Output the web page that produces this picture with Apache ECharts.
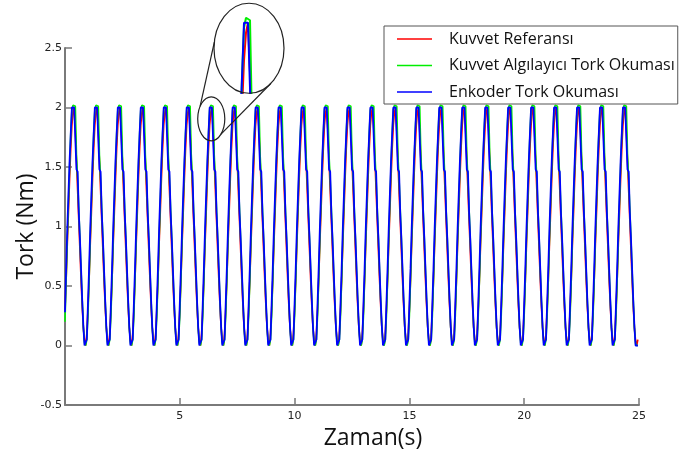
<!DOCTYPE html>
<html>
<head>
<meta charset="utf-8">
<script src="https://cdn.jsdelivr.net/npm/echarts@6/dist/echarts.min.js"></script>
<style>html,body{margin:0;padding:0;background:#fff}#c{width:691px;height:459px}</style>
</head>
<body>
<div id="c"></div>
<script>
// sampling step of the recorded signals (s)
const sampleStep = 0.05;
const seriesNames = ['Kuvvet Referansı', 'Kuvvet Algılayıcı Tork Okuması', 'Enkoder Tork Okuması'];
const xTicks = [0, 5, 10, 15, 20, 25];
const yTicks = [-0.5, 0, 0.5, 1, 1.5, 2, 2.5];

// Kuvvet Referansı (red), one line per second
const reference = [
.3,.55,.85,1.12,1.4,1.65,1.85,1.96,2,1.8,1.55,1.3,1.05,.8,.55,.33,.15,.04,0,.1,
.3,.55,.85,1.12,1.4,1.65,1.85,1.96,2,1.8,1.55,1.3,1.05,.8,.55,.33,.15,.04,0,.1,
.3,.55,.85,1.12,1.4,1.65,1.85,1.96,2,1.8,1.55,1.3,1.05,.8,.55,.33,.15,.04,0,.1,
.3,.55,.85,1.12,1.4,1.65,1.85,1.96,2,1.8,1.55,1.3,1.05,.8,.55,.33,.15,.04,0,.1,
.3,.55,.85,1.12,1.4,1.65,1.85,1.96,2,1.8,1.55,1.3,1.05,.8,.55,.33,.15,.04,0,.1,
.3,.55,.85,1.12,1.4,1.65,1.85,1.96,2,1.8,1.55,1.3,1.05,.8,.55,.33,.15,.04,0,.1,
.3,.55,.85,1.12,1.4,1.65,1.85,1.96,2,1.8,1.55,1.3,1.05,.8,.55,.33,.15,.04,0,.1,
.3,.55,.85,1.12,1.4,1.65,1.85,1.96,2,1.8,1.55,1.3,1.05,.8,.55,.33,.15,.04,0,.1,
.3,.55,.85,1.12,1.4,1.65,1.85,1.96,2,1.8,1.55,1.3,1.05,.8,.55,.33,.15,.04,0,.1,
.3,.55,.85,1.12,1.4,1.65,1.85,1.96,2,1.8,1.55,1.3,1.05,.8,.55,.33,.15,.04,0,.1,
.3,.55,.85,1.12,1.4,1.65,1.85,1.96,2,1.8,1.55,1.3,1.05,.8,.55,.33,.15,.04,0,.1,
.3,.55,.85,1.12,1.4,1.65,1.85,1.96,2,1.8,1.55,1.3,1.05,.8,.55,.33,.15,.04,0,.1,
.3,.55,.85,1.12,1.4,1.65,1.85,1.96,2,1.8,1.55,1.3,1.05,.8,.55,.33,.15,.04,0,.1,
.3,.55,.85,1.12,1.4,1.65,1.85,1.96,2,1.8,1.55,1.3,1.05,.8,.55,.33,.15,.04,0,.1,
.3,.55,.85,1.12,1.4,1.65,1.85,1.96,2,1.8,1.55,1.3,1.05,.8,.55,.33,.15,.04,0,.1,
.3,.55,.85,1.12,1.4,1.65,1.85,1.96,2,1.8,1.55,1.3,1.05,.8,.55,.33,.15,.04,0,.1,
.3,.55,.85,1.12,1.4,1.65,1.85,1.96,2,1.8,1.55,1.3,1.05,.8,.55,.33,.15,.04,0,.1,
.3,.55,.85,1.12,1.4,1.65,1.85,1.96,2,1.8,1.55,1.3,1.05,.8,.55,.33,.15,.04,0,.1,
.3,.55,.85,1.12,1.4,1.65,1.85,1.96,2,1.8,1.55,1.3,1.05,.8,.55,.33,.15,.04,0,.1,
.3,.55,.85,1.12,1.4,1.65,1.85,1.96,2,1.8,1.55,1.3,1.05,.8,.55,.33,.15,.04,0,.1,
.3,.55,.85,1.12,1.4,1.65,1.85,1.96,2,1.8,1.55,1.3,1.05,.8,.55,.33,.15,.04,0,.1,
.3,.55,.85,1.12,1.4,1.65,1.85,1.96,2,1.8,1.55,1.3,1.05,.8,.55,.33,.15,.04,0,.1,
.3,.55,.85,1.12,1.4,1.65,1.85,1.96,2,1.8,1.55,1.3,1.05,.8,.55,.33,.15,.04,0,.1,
.3,.55,.85,1.12,1.4,1.65,1.85,1.96,2,1.8,1.55,1.3,1.05,.8,.55,.33,.15,.04,0,.1,
.3,.55,.85,1.12,1.4,1.65,1.85,1.96,2,1.8,1.55,1.3,1.05,.8,.55,.33,.15,.04,0,.05
];

// Kuvvet Algılayıcı Tork Okuması (green)
const sensor = [
.2,.55,.9,1.2,1.5,1.78,1.98,2.02,2.02,2.01,1.6,1.4,1.15,.9,.63,.38,.15,.02,0,.05,
.25,.55,.9,1.2,1.5,1.78,1.98,2.02,2.02,2.01,1.6,1.4,1.15,.9,.63,.38,.15,.02,0,.05,
.25,.55,.9,1.2,1.5,1.78,1.98,2.02,2.02,2.01,1.6,1.4,1.15,.9,.63,.38,.15,.02,0,.05,
.25,.55,.9,1.2,1.5,1.78,1.98,2.02,2.02,2.01,1.6,1.4,1.15,.9,.63,.38,.15,.02,0,.05,
.25,.55,.9,1.2,1.5,1.78,1.98,2.02,2.02,2.01,1.6,1.4,1.15,.9,.63,.38,.15,.02,0,.05,
.25,.55,.9,1.2,1.5,1.78,1.98,2.02,2.02,2.01,1.6,1.4,1.15,.9,.63,.38,.15,.02,0,.05,
.25,.55,.9,1.2,1.5,1.78,1.98,2.02,2.02,2.01,1.6,1.4,1.15,.9,.63,.38,.15,.02,0,.05,
.25,.55,.9,1.2,1.5,1.78,1.98,2.02,2.02,2.01,1.6,1.4,1.15,.9,.63,.38,.15,.02,0,.05,
.25,.55,.9,1.2,1.5,1.78,1.98,2.02,2.02,2.01,1.6,1.4,1.15,.9,.63,.38,.15,.02,0,.05,
.25,.55,.9,1.2,1.5,1.78,1.98,2.02,2.02,2.01,1.6,1.4,1.15,.9,.63,.38,.15,.02,0,.05,
.25,.55,.9,1.2,1.5,1.78,1.98,2.02,2.02,2.01,1.6,1.4,1.15,.9,.63,.38,.15,.02,0,.05,
.25,.55,.9,1.2,1.5,1.78,1.98,2.02,2.02,2.01,1.6,1.4,1.15,.9,.63,.38,.15,.02,0,.05,
.25,.55,.9,1.2,1.5,1.78,1.98,2.02,2.02,2.01,1.6,1.4,1.15,.9,.63,.38,.15,.02,0,.05,
.25,.55,.9,1.2,1.5,1.78,1.98,2.02,2.02,2.01,1.6,1.4,1.15,.9,.63,.38,.15,.02,0,.05,
.25,.55,.9,1.2,1.5,1.78,1.98,2.02,2.02,2.01,1.6,1.4,1.15,.9,.63,.38,.15,.02,0,.05,
.25,.55,.9,1.2,1.5,1.78,1.98,2.02,2.02,2.01,1.6,1.4,1.15,.9,.63,.38,.15,.02,0,.05,
.25,.55,.9,1.2,1.5,1.78,1.98,2.02,2.02,2.01,1.6,1.4,1.15,.9,.63,.38,.15,.02,0,.05,
.25,.55,.9,1.2,1.5,1.78,1.98,2.02,2.02,2.01,1.6,1.4,1.15,.9,.63,.38,.15,.02,0,.05,
.25,.55,.9,1.2,1.5,1.78,1.98,2.02,2.02,2.01,1.6,1.4,1.15,.9,.63,.38,.15,.02,0,.05,
.25,.55,.9,1.2,1.5,1.78,1.98,2.02,2.02,2.01,1.6,1.4,1.15,.9,.63,.38,.15,.02,0,.05,
.25,.55,.9,1.2,1.5,1.78,1.98,2.02,2.02,2.01,1.6,1.4,1.15,.9,.63,.38,.15,.02,0,.05,
.25,.55,.9,1.2,1.5,1.78,1.98,2.02,2.02,2.01,1.6,1.4,1.15,.9,.63,.38,.15,.02,0,.05,
.25,.55,.9,1.2,1.5,1.78,1.98,2.02,2.02,2.01,1.6,1.4,1.15,.9,.63,.38,.15,.02,0,.05,
.25,.55,.9,1.2,1.5,1.78,1.98,2.02,2.02,2.01,1.6,1.4,1.15,.9,.63,.38,.15,.02,0,.05,
.25,.55,.9,1.2,1.5,1.78,1.98,2.02,2.02,2.01,1.6,1.4,1.15,.9,.63,.38,.15,.02,0,0
];

// Enkoder Tork Okuması (blue)
const encoder = [
.28,.65,.98,1.27,1.55,1.78,2,2,2,2,1.48,1.46,1.12,.9,.64,.38,.16,0,0,.05,
.35,.65,.98,1.27,1.55,1.78,2,2,2,2,1.48,1.46,1.12,.9,.64,.38,.16,0,0,.05,
.35,.65,.98,1.27,1.55,1.78,2,2,2,2,1.48,1.46,1.12,.9,.64,.38,.16,0,0,.05,
.35,.65,.98,1.27,1.55,1.78,2,2,2,2,1.48,1.46,1.12,.9,.64,.38,.16,0,0,.05,
.35,.65,.98,1.27,1.55,1.78,2,2,2,2,1.48,1.46,1.12,.9,.64,.38,.16,0,0,.05,
.35,.65,.98,1.27,1.55,1.78,2,2,2,2,1.48,1.46,1.12,.9,.64,.38,.16,0,0,.05,
.35,.65,.98,1.27,1.55,1.78,2,2,2,2,1.48,1.46,1.12,.9,.64,.38,.16,0,0,.05,
.35,.65,.98,1.27,1.55,1.78,2,2,2,2,1.48,1.46,1.12,.9,.64,.38,.16,0,0,.05,
.35,.65,.98,1.27,1.55,1.78,2,2,2,2,1.48,1.46,1.12,.9,.64,.38,.16,0,0,.05,
.35,.65,.98,1.27,1.55,1.78,2,2,2,2,1.48,1.46,1.12,.9,.64,.38,.16,0,0,.05,
.35,.65,.98,1.27,1.55,1.78,2,2,2,2,1.48,1.46,1.12,.9,.64,.38,.16,0,0,.05,
.35,.65,.98,1.27,1.55,1.78,2,2,2,2,1.48,1.46,1.12,.9,.64,.38,.16,0,0,.05,
.35,.65,.98,1.27,1.55,1.78,2,2,2,2,1.48,1.46,1.12,.9,.64,.38,.16,0,0,.05,
.35,.65,.98,1.27,1.55,1.78,2,2,2,2,1.48,1.46,1.12,.9,.64,.38,.16,0,0,.05,
.35,.65,.98,1.27,1.55,1.78,2,2,2,2,1.48,1.46,1.12,.9,.64,.38,.16,0,0,.05,
.35,.65,.98,1.27,1.55,1.78,2,2,2,2,1.48,1.46,1.12,.9,.64,.38,.16,0,0,.05,
.35,.65,.98,1.27,1.55,1.78,2,2,2,2,1.48,1.46,1.12,.9,.64,.38,.16,0,0,.05,
.35,.65,.98,1.27,1.55,1.78,2,2,2,2,1.48,1.46,1.12,.9,.64,.38,.16,0,0,.05,
.35,.65,.98,1.27,1.55,1.78,2,2,2,2,1.48,1.46,1.12,.9,.64,.38,.16,0,0,.05,
.35,.65,.98,1.27,1.55,1.78,2,2,2,2,1.48,1.46,1.12,.9,.64,.38,.16,0,0,.05,
.35,.65,.98,1.27,1.55,1.78,2,2,2,2,1.48,1.46,1.12,.9,.64,.38,.16,0,0,.05,
.35,.65,.98,1.27,1.55,1.78,2,2,2,2,1.48,1.46,1.12,.9,.64,.38,.16,0,0,.05,
.35,.65,.98,1.27,1.55,1.78,2,2,2,2,1.48,1.46,1.12,.9,.64,.38,.16,0,0,.05,
.35,.65,.98,1.27,1.55,1.78,2,2,2,2,1.48,1.46,1.12,.9,.64,.38,.16,0,0,.05,
.35,.65,.98,1.27,1.55,1.78,2,2,2,2,1.48,1.46,1.12,.9,.64,.38,.16,0,0,0
];

// zoom inset: the data window that is magnified (time s, torque Nm)
const zoomWindowX = [5.78, 6.96];
const zoomWindowY = [1.72, 2.09];
// inset axes ranges and the magnifier ellipse in inset data units
const insetRangeX = [5.95, 6.8];
const insetRangeY = [1.719, 2.031];
const insetEllipseCenter = [6.425, 1.898];
const insetEllipseRadius = [0.875, 0.18];

const colors = ['#ff0000', '#00ee00', '#0000ff'];
const values = [reference, sensor, encoder];
const pairs = v => v.map((y, i) => [+(i * sampleStep).toFixed(2), y]);

const chart = echarts.init(document.getElementById('c'), null, {renderer: 'canvas'});

const axisGray = '#7a7a7a';
const mainSeries = values.map((v, i) => ({
  name: seriesNames[i], type: 'line', xAxisIndex: 0, yAxisIndex: 0,
  data: pairs(v), symbol: 'none', showSymbol: false, animation: false,
  lineStyle: {color: colors[i], width: i === 2 ? 1.8 : 1.6}, itemStyle: {color: colors[i]}, z: 2 + i
}));
const insetSeries = values.map((v, i) => ({
  name: seriesNames[i], type: 'line', xAxisIndex: 1, yAxisIndex: 1,
  data: pairs(v), symbol: 'none', showSymbol: false, animation: false, clip: true,
  lineStyle: {color: colors[i], width: 2}, itemStyle: {color: colors[i]}, z: 2 + i
}));

chart.setOption({
  animation: false,
  backgroundColor: '#fff',
  grid: [
    {left: 65, right: 52, top: 48, bottom: 54, containLabel: false},
    {left: 230, top: 15, width: 34, height: 78}
  ],
  legend: {
    data: seriesNames.map(n => ({name: n, icon: 'rect'})), icon: 'rect',
    orient: 'vertical', left: 384, top: 26,
    padding: [5, 3, 4, 13], itemWidth: 35, itemHeight: 1.6, itemGap: 10.5,
    borderColor: '#555', borderWidth: 1, backgroundColor: '#fff',
    textStyle: {fontFamily: 'Open Sans', fontSize: 16, lineHeight: 14, color: '#111', padding: [0, 0, 0, 12]},
    selectedMode: false
  },
  xAxis: [{
    type: 'value', gridIndex: 0, min: xTicks[0], max: xTicks[xTicks.length - 1], interval: 5,
    name: 'Zaman(s)', nameLocation: 'middle', nameGap: 22, nameMoveOverlap: false,
    nameTextStyle: {fontFamily: 'Open Sans', fontSize: 23, color: '#111', padding: [0, 0, 0, 42]},
    axisLine: {show: true, onZero: false, lineStyle: {color: axisGray, width: 2}},
    axisTick: {show: true, inside: true, length: 7, lineStyle: {color: axisGray, width: 1.5}},
    axisLabel: {margin: 6, fontFamily: 'DejaVu Sans', fontSize: 11, color: '#222',
      formatter: v => (v === 0 ? '' : String(v))},
    splitLine: {show: false}
  }, {
    type: 'value', gridIndex: 1, min: insetRangeX[0], max: insetRangeX[1], show: false, splitLine: {show: false}
  }],
  yAxis: [{
    type: 'value', gridIndex: 0, min: yTicks[0], max: yTicks[yTicks.length - 1], interval: 0.5,
    name: 'Tork (Nm)', nameLocation: 'middle', nameGap: 27, nameMoveOverlap: false,
    nameTextStyle: {fontFamily: 'Open Sans', fontSize: 23, color: '#111'},
    axisLine: {show: true, onZero: false, lineStyle: {color: axisGray, width: 2}},
    axisTick: {show: true, inside: true, length: 7, lineStyle: {color: axisGray, width: 1.5}},
    axisLabel: {margin: 3, fontFamily: 'DejaVu Sans', fontSize: 11, color: '#222'},
    splitLine: {show: false}
  }, {
    type: 'value', gridIndex: 1, min: insetRangeY[0], max: insetRangeY[1], show: false, splitLine: {show: false}
  }],
  series: mainSeries.concat(insetSeries)
});

// magnifier annotation, placed from data coordinates
function drawMagnifier() {
  const p = (x, y) => chart.convertToPixel({gridIndex: 0}, [x, y]);
  const q = (x, y) => chart.convertToPixel({gridIndex: 1}, [x, y]);
  const a = p(zoomWindowX[0], zoomWindowY[1]);
  const b = p(zoomWindowX[1], zoomWindowY[0]);
  const small = {cx: (a[0] + b[0]) / 2, cy: (a[1] + b[1]) / 2, rx: Math.abs(b[0] - a[0]) / 2, ry: Math.abs(b[1] - a[1]) / 2};
  const c = q(insetEllipseCenter[0] - insetEllipseRadius[0], insetEllipseCenter[1] + insetEllipseRadius[1]);
  const d = q(insetEllipseCenter[0] + insetEllipseRadius[0], insetEllipseCenter[1] - insetEllipseRadius[1]);
  const big = {cx: (c[0] + d[0]) / 2, cy: (c[1] + d[1]) / 2, rx: Math.abs(d[0] - c[0]) / 2, ry: Math.abs(d[1] - c[1]) / 2};
  const onEll = (e, ang) => [e.cx + e.rx * Math.cos(ang), e.cy + e.ry * Math.sin(ang)];
  const s1 = onEll(small, -2.54), s2 = onEll(small, 0.79);
  const b1 = onEll(big, 3.28), b2 = onEll(big, 0.89);
  const st = {stroke: '#222', lineWidth: 1.2, fill: null};
  chart.setOption({
    graphic: [
      {type: 'ellipse', shape: small, style: st, z: 100, silent: true},
      {type: 'ellipse', shape: big, style: st, z: 100, silent: true},
      {type: 'line', shape: {x1: s1[0], y1: s1[1], x2: b1[0], y2: b1[1]}, style: st, z: 100, silent: true},
      {type: 'line', shape: {x1: s2[0], y1: s2[1], x2: b2[0], y2: b2[1]}, style: st, z: 100, silent: true}
    ]
  });
}
drawMagnifier();
</script>
</body>
</html>
